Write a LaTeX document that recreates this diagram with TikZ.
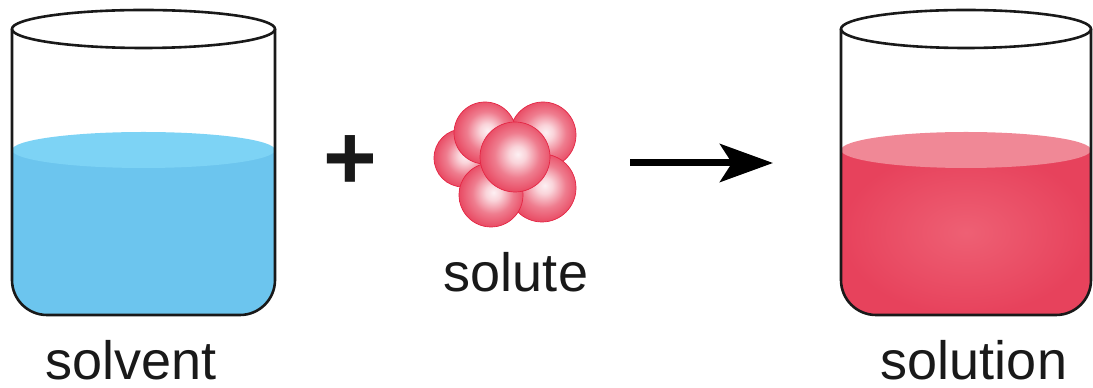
\documentclass[tikz,border=0pt]{standalone}
\usepackage{fontspec}
\setmainfont{Liberation Sans}
\usetikzlibrary{arrows.meta}

\definecolor{waterbody}{RGB}{108,197,238}
\definecolor{watertop}{RGB}{125,211,245}
\definecolor{mixbody}{RGB}{231,66,92}
\definecolor{mixglow}{RGB}{238,96,116}
\definecolor{mixtop}{RGB}{240,136,150}
\definecolor{ballred}{RGB}{228,38,68}
\definecolor{ballcore}{RGB}{253,240,243}
\definecolor{ink}{RGB}{25,25,25}

% soft red sphere
\pgfdeclareradialshading{pearl}{\pgfpoint{2bp}{2bp}}{%
  color(0bp)=(ballcore); color(6bp)=(ballred!20!white);
  color(16bp)=(ballred!60!white); color(28bp)=(ballred!88!white);
  color(50bp)=(ballred)}

\begin{document}
\begin{tikzpicture}[x=1pt, y=1pt,
  glass/.style={line width=2.6pt, draw=ink},
  word/.style={font=\fontsize{54}{64}\selectfont, text=ink, inner sep=0pt, anchor=base},
  ball/.style={shading=pearl, draw=ballred, line width=0.7pt}]
\useasboundingbox (0,0) rectangle (1093,388);
\pgfmathsetmacro\r{35}
\pgfmathsetmacro\ybot{73}
\pgfmathsetmacro\yrim{359}
\pgfmathsetmacro\yliq{238}

% solvent beaker
\fill[waterbody] (12,\yliq) -- (12,\ybot+\r) arc[start angle=180, end angle=270, radius=\r]
  -- (275-\r,\ybot) arc[start angle=270, end angle=360, radius=\r] -- (275,\yliq) -- cycle;
\fill[watertop] (143.5,\yliq) ellipse[x radius=131.5, y radius=18];
\draw[glass] (12,\yrim) -- (12,\ybot+\r) arc[start angle=180, end angle=270, radius=\r]
  -- (275-\r,\ybot) arc[start angle=270, end angle=360, radius=\r] -- (275,\yrim);
\draw[glass] (143.5,\yrim) ellipse[x radius=131.5, y radius=19];
\node[word] (solvent) at (131,8) {solvent};

% plus sign
\node[font=\fontsize{92}{100}\selectfont\bfseries, text=ink, inner sep=0pt] (plus) at (350,225) {+};

% solute cluster
\foreach \cx/\cy/\cr in {463/230/29, 543/253/33, 485/255/31, 542/200/34, 491/193/32, 515/231/35}
  \shade[ball] (\cx,\cy) circle[radius=\cr];
\node[word] (solute) at (516,96) {solute};

% reaction arrow
\coordinate (a0) at (630,225);
\coordinate (a1) at (773,225);
\draw[line width=7pt, draw=black, -{Stealth[length=53pt, width=38pt, inset=12pt]}] (a0) -- (a1);

% solution beaker
\shade[inner color=mixglow, outer color=mixbody] (841,\yliq) -- (841,\ybot+\r) arc[start angle=180, end angle=270, radius=\r]
  -- (1091-\r,\ybot) arc[start angle=270, end angle=360, radius=\r] -- (1091,\yliq) -- cycle;
\fill[mixtop] (966,\yliq) ellipse[x radius=125, y radius=18];
\draw[glass] (841,\yrim) -- (841,\ybot+\r) arc[start angle=180, end angle=270, radius=\r]
  -- (1091-\r,\ybot) arc[start angle=270, end angle=360, radius=\r] -- (1091,\yrim);
\draw[glass] (966,\yrim) ellipse[x radius=125, y radius=19];
\node[word] (solution) at (974,8) {solution};
\end{tikzpicture}
\end{document}
